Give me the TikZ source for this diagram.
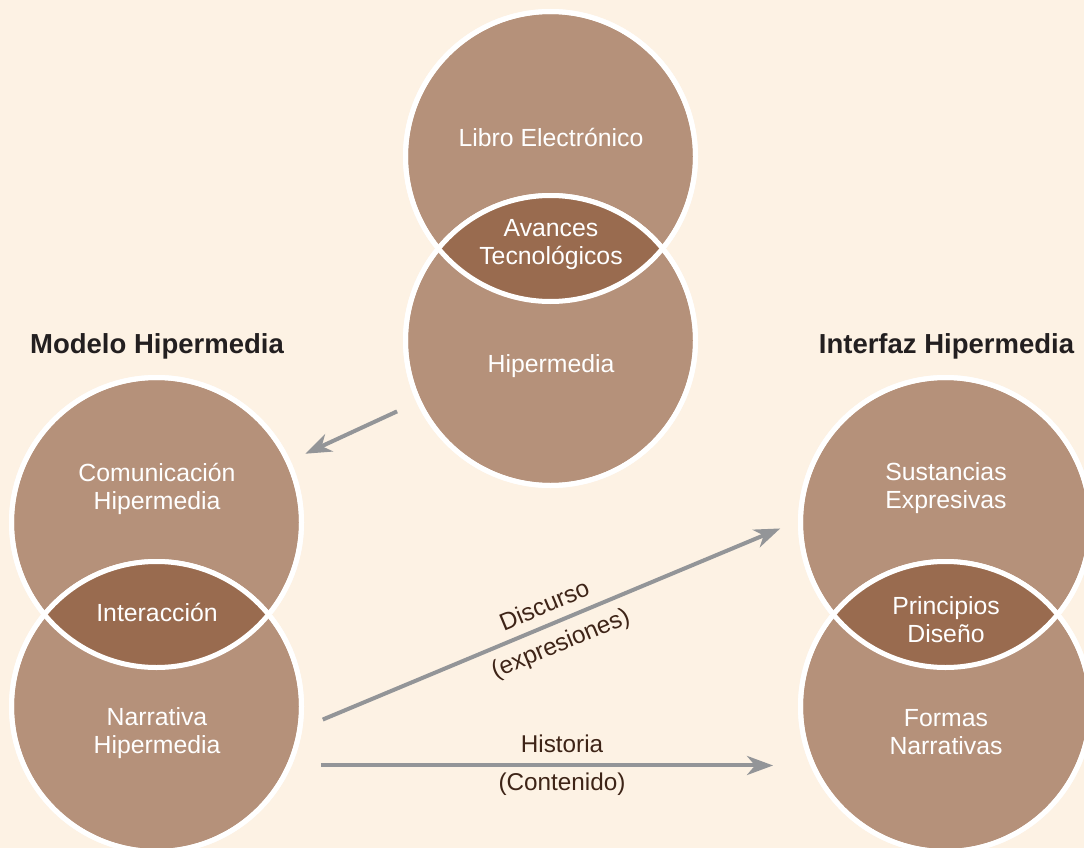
\documentclass[tikz,border=0pt]{standalone}
\usepackage{fontspec}
\setmainfont{Liberation Sans}
\usetikzlibrary{arrows.meta}
\definecolor{paper}{HTML}{FDF2E4}
\definecolor{discfill}{HTML}{B5917A}
\definecolor{lensfill}{HTML}{996B4F}
\definecolor{arrowgrey}{HTML}{939598}
\definecolor{labelbrown}{HTML}{3E2417}
\definecolor{titleink}{HTML}{231F20}

% shade the overlap of two discs and redraw both white rims
\newcommand\vennlens[2]{%
  \begin{scope}
    \clip (#1.center) circle[radius=145pt];
    \fill[lensfill] (#2.center) circle[radius=145pt];
  \end{scope}
  \draw[ring] (#1.center) circle[radius=145pt];
  \draw[ring] (#2.center) circle[radius=145pt];
}

\begin{document}
\begin{tikzpicture}[x=1pt,y=-1pt,
  vennDisc/.style={circle, fill=discfill, draw=white, line width=5pt,
    minimum size=290pt, inner sep=0pt, outer sep=0pt},
  ring/.style={draw=white, line width=5pt},
  intext/.style={text=white, font=\fontsize{24.8}{28}\selectfont,
    align=center, inner sep=0pt},
  title/.style={text=titleink, font=\fontsize{27.5}{30}\selectfont\bfseries,
    inner sep=0pt},
  flow/.style={draw=arrowgrey, line width=4pt,
    -{Stealth[length=26pt,width=19pt,inset=8pt]}},
  flowlabel/.style={text=labelbrown, font=\fontsize{24.3}{28}\selectfont,
    inner xsep=0pt},
]
\fill[paper] (0,0) rectangle (1084,848);
\useasboundingbox (0,0) rectangle (1084,848);

% three pairs of overlapping discs
\node[vennDisc] (libro) at (550.5,156.5) {};
\node[vennDisc] (hiper) at (550.5,340.5) {};
\node[vennDisc] (comu)  at (156.5,522.5) {};
\node[vennDisc] (narr)  at (156.5,706.5) {};
\node[vennDisc] (sust)  at (945.5,522.5) {};
\node[vennDisc] (form)  at (945.5,706.5) {};

\vennlens{libro}{hiper}
\vennlens{comu}{narr}
\vennlens{sust}{form}

% disc texts
\node[intext] (tLibro) at (551,137) {Libro Electrónico};
\node[intext] (tAvances) at (551,245) {Avances\\Tecnológicos};
\node[intext] (tHiper) at (551,366) {Hipermedia};
\node[intext] (tComu) at (157,489) {Comunicación\\Hipermedia};
\node[intext] (tInter) at (157,612) {Interacción};
\node[intext] (tNarr) at (157,733) {Narrativa\\Hipermedia};
\node[intext] (tSust) at (946,488) {Sustancias\\Expresivas};
\node[intext] (tPrin) at (946,620) {Principios\\Diseño};
\node[intext] (tForm) at (946,732) {Formas\\Narrativas};

% group titles
\node[title] (modelo) at (157,346) {Modelo Hipermedia};
\node[title] (interfaz) at (946.5,346) {Interfaz Hipermedia};

% connectors
\draw[flow, shorten <=24pt, shorten >=19pt] (hiper) -- (comu);
\draw[flow, shorten <=25pt, shorten >=22pt] (narr.-9) -- (sust.179)
  node[flowlabel, pos=.504, sloped, anchor=south, inner ysep=9.5pt] (lDisc) {Discurso}
  node[flowlabel, pos=.504, sloped, anchor=north, inner ysep=9.5pt] (lExpr) {(expresiones)};
\draw[flow, shorten <=32pt, shorten >=40pt] (narr.-24.2) -- (form.204.2)
  node[flowlabel, pos=.521, anchor=south, inner ysep=11pt] (lHist) {Historia}
  node[flowlabel, pos=.521, anchor=north, inner ysep=5.7pt] (lCont) {(Contenido)};
\end{tikzpicture}
\end{document}
